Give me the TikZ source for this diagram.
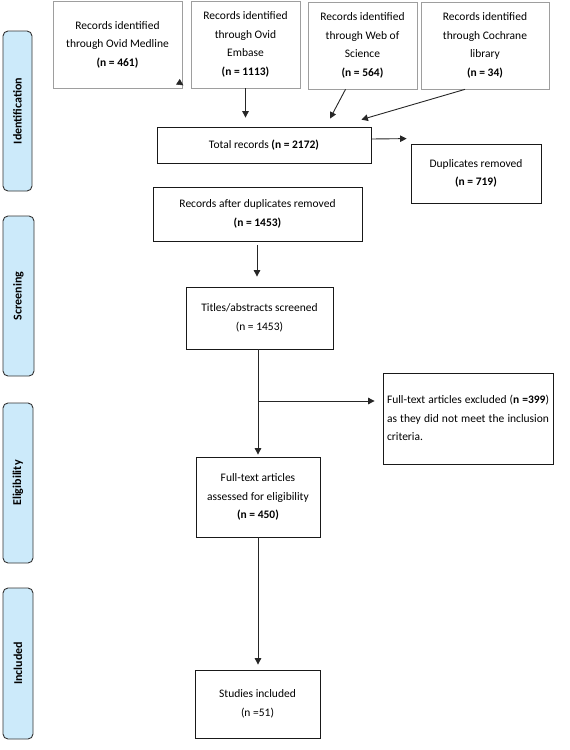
\documentclass[tikz,border=0pt]{standalone}
\usepackage{fontspec}
\setmainfont{Carlito}
\usetikzlibrary{arrows.meta,calc}
\definecolor{stagefill}{RGB}{204,234,250}
\tikzset{
  srcbox/.style={draw=black!38, line width=0.7pt, inner sep=0pt, align=center, font=\fontsize{11.5}{18.5}\selectfont},
  flowbox/.style={draw=black!90, line width=0.8pt, inner sep=0pt, align=center, font=\fontsize{11.5}{18.5}\selectfont},
  stagebox/.style={draw=black!80, fill=stagefill, line width=0.9pt, rounded corners=5pt, inner sep=0pt, rotate=90, font=\fontsize{12}{13}\selectfont\bfseries},
  arr/.style={draw=black!85, line width=0.9pt, -{Triangle[length=6.5pt,width=6.5pt]}},
  plain/.style={draw=black!85, line width=0.9pt}
}
\begin{document}
\begin{tikzpicture}[x=1pt,y=-1pt]
\useasboundingbox (0,0) rectangle (570,750);
% stage labels (rotated: min width = vertical extent)
\node[stagebox, minimum width=160pt, minimum height=29pt] (sid) at (17.5,111) {Identification};
\node[stagebox, minimum width=160pt, minimum height=31pt] (ssc) at (18.5,296) {Screening};
\node[stagebox, minimum width=160pt, minimum height=30pt] (sel) at (18,483) {Eligibility};
\node[stagebox, minimum width=151pt, minimum height=30pt] (sin) at (18,663.5) {Included};
% source boxes
\node[srcbox, minimum width=129pt, minimum height=87pt] (med) at (117.5,44.5) {Records identified\\through Ovid Medline\\\textbf{(n = 461)}};
\node[srcbox, minimum width=109pt, minimum height=87pt] (emb) at (245.5,44.5) {Records identified\\through Ovid\\Embase\\\textbf{(n = 1113)}};
\node[srcbox, minimum width=109pt, minimum height=87pt] (wos) at (362.5,45.5) {Records identified\\through Web of\\Science\\\textbf{(n = 564)}};
\node[srcbox, minimum width=128pt, minimum height=87pt] (coch) at (485,45.5) {Records identified\\through Cochrane\\library\\\textbf{(n = 34)}};
% flow boxes
\node[flowbox, minimum width=214pt, minimum height=36pt] (tot) at (264,145) {Total records \textbf{(n = 2172)}};
\node[flowbox, minimum width=130pt, minimum height=59pt] (dup) at (476,173.5) {Duplicates removed\\\textbf{(n = 719)}};
\node[flowbox, minimum width=209pt, minimum height=54pt] (rad) at (257.5,214) {Records after duplicates removed\\\textbf{(n = 1453)}};
\node[flowbox, minimum width=147pt, minimum height=62pt] (tit) at (259.5,318) {Titles/abstracts screened\\(n = 1453)};
\node[flowbox, minimum width=170pt, minimum height=91pt] (excl) at (468,418.5) {\begin{tabular}{@{}l@{}}\makebox[162pt][s]{Full-text articles excluded (\textbf{n =399})}\\\makebox[162pt][s]{as they did not meet the inclusion}\\criteria.\end{tabular}};
\node[flowbox, minimum width=124pt, minimum height=80pt] (full) at (258,497) {Full-text articles\\assessed for eligibility\\\textbf{(n = 450)}};
\node[flowbox, minimum width=125pt, minimum height=68pt] (stu) at (257.5,704) {Studies included\\(n =51)};
% connectors
\draw[arr, line width=0.5pt] ($(med.south east)+(-2,-5)$) -- ($(med.south east)+(1,-3)$);
\draw[arr, shorten >=9pt] (emb.south) -- (emb.south |- tot.north);
\draw[arr] ($(wos.south)+(-17,0)$) -- ($(tot.north)+(66,-8)$);
\draw[arr] ($(coch.south)+(-20,0)$) -- ($(tot.north east)+(-10,-7)$);
\draw[arr] ($(tot.east)+(0,-6)$) -- ($(dup.north west)+(-4,-5)$);
\draw[arr, shorten <=4pt, shorten >=10pt] (rad.south -| 257,0) -- (tit.north -| 257,0);
\draw[arr, shorten >=2pt] (tit.south -| full.north) -- (full.north);
\coordinate (br) at (258,401);
\draw[arr, shorten >=8pt] (br) -- (br -| excl.west);
\draw[arr, shorten >=5pt] (full.south) -- (stu.north -| full.south);
\end{tikzpicture}
\end{document}
